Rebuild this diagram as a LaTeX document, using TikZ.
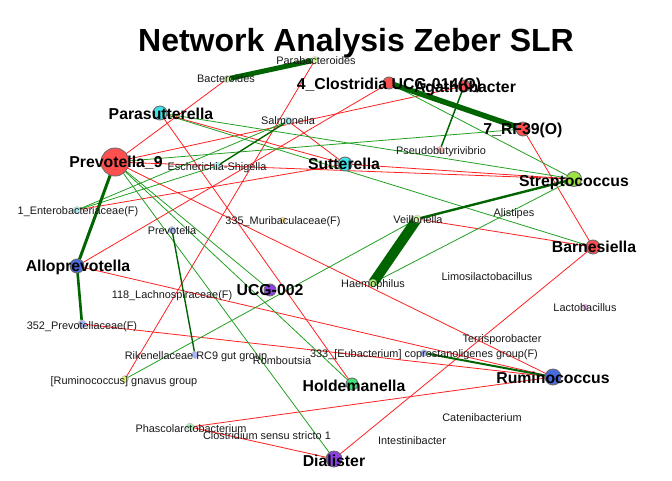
\documentclass[tikz,border=0pt]{standalone}
\usepackage{fontspec}
\setmainfont{Liberation Sans}
\usetikzlibrary{backgrounds}
\definecolor{posgreen}{HTML}{22A022}
\definecolor{strongreen}{HTML}{006400}
\definecolor{negred}{HTML}{FF2020}
\definecolor{redfill}{HTML}{FF4F4F}
\definecolor{cyanfill}{HTML}{40E2EA}
\definecolor{bluefill}{HTML}{4A6AE2}
\definecolor{purplefill}{HTML}{8E40E2}
\definecolor{greenfill}{HTML}{44E078}
\definecolor{limefill}{HTML}{9CE444}
\definecolor{palegreen}{HTML}{D2F2A6}
\definecolor{palecyan}{HTML}{A8EEF2}
\definecolor{paleblue}{HTML}{A6B6F6}
\definecolor{palered}{HTML}{FFB2B2}
\definecolor{paleyellow}{HTML}{FFE4A4}
\definecolor{palepink}{HTML}{F2B4F2}
\definecolor{palemint}{HTML}{A6F2BC}

\begin{document}
\begin{tikzpicture}[x=1pt, y=-1pt,
                    every node/.style={inner sep=0pt, outer sep=0pt},
                    bigdot/.style={circle, draw=gray!85!black, line width=0.9pt, minimum size=14pt, fill=#1},
                    smalldot/.style={circle, draw=gray!45, line width=0.5pt, minimum size=7pt, fill=#1},
                    biglabel/.style={font=\fontsize{15.8}{16}\selectfont\bfseries, text height=11.3pt, text depth=0pt},
                    smalllabel/.style={font=\fontsize{10.9}{11}\selectfont, text height=7.8pt, text depth=0pt, text=black!90},
                    posedge/.style={draw=posgreen, line width=0.8pt},
                    negedge/.style={draw=negred, line width=0.8pt},
                    strongedge/.style={draw=strongreen, line width=#1}]
  \useasboundingbox (0,0) rectangle (672,480);

  \node[font=\fontsize{32}{34}\selectfont\bfseries, text height=23pt, text depth=0pt] (title) at (356,40) {Network Analysis Zeber SLR};

  % vertices
  \node[smalldot=palegreen] (parab) at (315,60) {};
  \node[smalldot=palegreen] (bacter) at (227,79) {};
  \node[bigdot=redfill, minimum size=12pt] (closfour) at (389,83) {};
  \node[bigdot=redfill, minimum size=12pt] (agatho) at (464,86) {};
  \node[bigdot=redfill] (rfthree) at (523,129) {};
  \node[bigdot=cyanfill] (parasut) at (160,113) {};
  \node[smalldot=palecyan, minimum size=8pt] (salmon) at (288,121) {};
  \node[smalldot=palered] (pseudo) at (440,150) {};
  \node[bigdot=redfill, minimum size=28pt] (prevnine) at (115,162) {};
  \node[smalldot=palecyan, minimum size=8pt] (escher) at (217,166) {};
  \node[bigdot=cyanfill] (sutter) at (345,164) {};
  \node[bigdot=limefill, minimum size=15pt] (strepto) at (574,179) {};
  \node[smalldot=palecyan] (entero) at (77,210) {};
  \node[smalldot=paleyellow, minimum size=6pt] (murib) at (283,220) {};
  \node[smalldot=palegreen, minimum size=8pt] (veill) at (417,219) {};
  \node[smalldot=paleblue] (prevot) at (172,230) {};
  \node[bigdot=redfill] (barnes) at (593,247) {};
  \node[bigdot=bluefill] (allop) at (77,266) {};
  \node[smalldot=limefill!70, draw=strongreen!70, minimum size=8pt] (haemo) at (373,283) {};
  \node[bigdot=purplefill, minimum size=12pt] (ucg) at (270,290) {};
  \node[smalldot=palepink, minimum size=6pt] (lacto) at (585,307) {};
  \node[smalldot=paleblue, minimum size=8pt] (prevfam) at (82,324) {};
  \node[smalldot=paleblue] (eubact) at (424,353) {};
  \node[smalldot=paleblue] (rikenel) at (195,355) {};
  \node[smalldot=palegreen!70!yellow] (gnavus) at (125,379) {};
  \node[bigdot=bluefill, minimum size=16pt] (rumino) at (553,377) {};
  \node[bigdot=greenfill, minimum size=12pt] (holde) at (352,384) {};
  \node[smalldot=palemint, minimum size=8pt] (phascol) at (190,427) {};
  \node[bigdot=purplefill, minimum size=16pt] (dialis) at (334,459) {};

  % connectors
  \begin{scope}[on background layer]
    \fill[white] (0,0) rectangle (672,480);
    \draw[negedge] (bacter.center) -- (prevnine.center);
    \draw[negedge] (parab.center) -- (gnavus.center);
    \draw[negedge] (parasut.center) -- (holde.center);
    \draw[negedge] (parasut.center) -- (sutter.center);
    \draw[negedge] (prevnine.center) -- (agatho.center);
    \draw[negedge] (salmon.center) -- (sutter.center);
    \draw[negedge] (entero.center) -- (sutter.center);
    \draw[negedge] (prevnine.center) -- (strepto.center);
    \draw[negedge] (sutter.center) -- (strepto.center);
    \draw[negedge] (rfthree.center) -- (barnes.center);
    \draw[negedge] (veill.center) -- (barnes.center);
    \draw[negedge] (prevnine.center) -- (rumino.center);
    \draw[negedge] (allop.center) -- (rumino.center);
    \draw[negedge] (prevfam.center) -- (rumino.center);
    \draw[negedge] (phascol.center) -- (rumino.center);
    \draw[negedge] (phascol.center) -- (dialis.center);
    \draw[negedge] (barnes.center) -- (dialis.center);
    \draw[negedge] (allop.center) -- (closfour.center);

    \draw[posedge] (entero.center) -- (salmon.center);
    \draw[posedge] (entero.center) -- (escher.center);
    \draw[posedge] (parasut.center) -- (strepto.center);
    \draw[posedge] (parasut.center) -- (barnes.center);
    \draw[posedge] (prevnine.center) -- (rfthree.center);
    \draw[posedge] (closfour.center) -- (strepto.center);
    \draw[posedge] (haemo.center) -- (strepto.center);
    \draw[posedge] (gnavus.center) -- (veill.center);
    \draw[posedge] (prevnine.center) -- (ucg.center);
    \draw[posedge] (prevnine.center) -- (holde.center);
    \draw[posedge] (prevnine.center) -- (dialis.center);

    \draw[strongedge=5pt] (bacter.center) -- (parab.center);
    \draw[strongedge=5.5pt] (closfour.center) -- (rfthree.center);
    \draw[strongedge=10pt] (veill.center) -- (haemo.center);
    \draw[strongedge=3pt] (prevnine.center) -- (allop.center);
    \draw[strongedge=2.6pt] (allop.center) -- (prevfam.center);
    \draw[strongedge=2.4pt] (veill.center) -- (strepto.center);
    \draw[strongedge=1.5pt] (agatho.center) -- (pseudo.center);
    \draw[strongedge=1.4pt] (salmon.center) -- (escher.center);
    \draw[strongedge=1.4pt] (prevot.center) -- (rikenel.center);
    \draw[strongedge=2pt] (eubact.center) -- (rumino.center);
  \end{scope}

  % labels
  \node[smalllabel] (parab-lbl) at (316,61) {Parabacteroides};
  \node[smalllabel] (bacter-lbl) at (226,79) {Bacteroides};
  \node[biglabel] (closfour-lbl) at (389,84) {4\_Clostridia UCG-014(O)};
  \node[biglabel] (agatho-lbl) at (465,87) {Agathobacter};
  \node[biglabel] (rfthree-lbl) at (523,129) {7\_RF39(O)};
  \node[biglabel] (parasut-lbl) at (161,114) {Parasutterella};
  \node[smalllabel] (salmon-lbl) at (288,121) {Salmonella};
  \node[smalllabel] (pseudo-lbl) at (441,151) {Pseudobutyrivibrio};
  \node[biglabel] (prevnine-lbl) at (116,162) {Prevotella\_9};
  \node[smalllabel] (escher-lbl) at (217,167) {Escherichia-Shigella};
  \node[biglabel] (sutter-lbl) at (344,164) {Sutterella};
  \node[biglabel] (strepto-lbl) at (574,181) {Streptococcus};
  \node[smalllabel] (entero-lbl) at (78,211) {1\_Enterobacteriaceae(F)};
  \node[smalllabel] (murib-lbl) at (283,221) {335\_Muribaculaceae(F)};
  \node[smalllabel] (veill-lbl) at (418,220) {Veillonella};
  \node[smalllabel] (alist-lbl) at (514,213) {Alistipes};
  \node[smalllabel] (prevot-lbl) at (172,231) {Prevotella};
  \node[biglabel] (barnes-lbl) at (594,247) {Barnesiella};
  \node[biglabel] (allop-lbl) at (78,266) {Alloprevotella};
  \node[smalllabel] (limosi-lbl) at (487,277) {Limosilactobacillus};
  \node[smalllabel] (haemo-lbl) at (373,284) {Haemophilus};
  \node[biglabel] (ucg-lbl) at (270,290) {UCG-002};
  \node[smalllabel] (lachno-lbl) at (172,295) {118\_Lachnospiraceae(F)};
  \node[smalllabel] (lacto-lbl) at (585,308) {Lactobacillus};
  \node[smalllabel] (prevfam-lbl) at (82,326) {352\_Prevotellaceae(F)};
  \node[smalllabel] (terri-lbl) at (502,339) {Terrisporobacter};
  \node[smalllabel] (eubact-lbl) at (424,354) {333\_[Eubacterium] coprostanoligenes group(F)};
  \node[smalllabel] (rikenel-lbl) at (196,356) {Rikenellaceae RC9 gut group};
  \node[smalllabel] (romb-lbl) at (282,361) {Romboutsia};
  \node[smalllabel] (gnavus-lbl) at (124,381) {[Ruminococcus] gnavus group};
  \node[biglabel] (rumino-lbl) at (553,378) {Ruminococcus};
  \node[biglabel] (holde-lbl) at (354,386) {Holdemanella};
  \node[smalllabel] (cateni-lbl) at (482,418) {Catenibacterium};
  \node[smalllabel] (phascol-lbl) at (191,429) {Phascolarctobacterium};
  \node[smalllabel] (clostr-lbl) at (267,436) {Clostridium sensu stricto 1};
  \node[smalllabel] (intest-lbl) at (412,441) {Intestinibacter};
  \node[biglabel] (dialis-lbl) at (334,461) {Dialister};
\end{tikzpicture}
\end{document}
